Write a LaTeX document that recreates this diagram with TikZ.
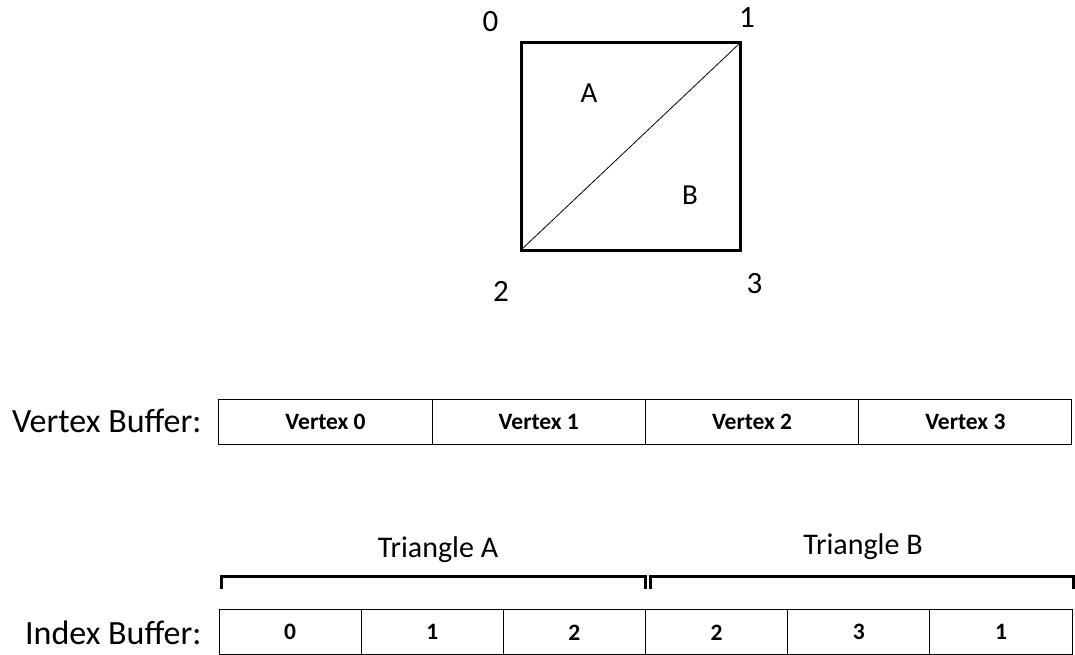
\documentclass[tikz,border=0pt]{standalone}
\usepackage{fontspec}
\setmainfont{Carlito}
\usetikzlibrary{positioning}

\begin{document}
\begin{tikzpicture}[x=1pt, y=-1pt,
    vcell/.style={rectangle, draw, line width=1pt, outer sep=0pt, inner sep=0pt, minimum width=213.25pt, minimum height=45pt, font=\fontsize{23.5}{23.5}\selectfont\bfseries},
    icell/.style={vcell, minimum width=142.17pt},
    buflabel/.style={anchor=east, font=\fontsize{34}{34}\selectfont},
    cornerlabel/.style={font=\fontsize{31}{31}\selectfont},
    trilabel/.style={font=\fontsize{29}{29}\selectfont},
    grouplabel/.style={font=\fontsize{30}{30}\selectfont},
    bracket/.style={line width=3pt}]
    \useasboundingbox (0,0) rectangle (1075,655);

    % quad split into two triangles
    \coordinate (p0) at (521,43);
    \coordinate (p1) at (740,43);
    \coordinate (p2) at (521,250);
    \coordinate (p3) at (740,250);
    \draw [line width=3pt] (p0) -- (p1) -- (p3) -- (p2) -- cycle;
    \draw [line width=0.8pt] (p2) -- (p1);
    \node (n0) [cornerlabel] at (490.5,22) {0};
    \node (n1) [cornerlabel] at (747,18) {1};
    \node (n2) [cornerlabel] at (501,291) {2};
    \node (n3) [cornerlabel] at (754.5,284) {3};
    \node (ta) [trilabel] at (589,93) {A};
    \node (tb) [trilabel] at (690,195) {B};

    % vertex buffer
    \node (v0) [vcell] at (325.6,421.5) {Vertex 0};
    \foreach \i [count=\j from 0] in {1,2,3}
        \node (v\i) [vcell, right=0pt of v\j] {Vertex \i};
    \node (vlabel) [buflabel] at (205,421) {Vertex Buffer:};

    % index buffer
    \node (i0) [icell] at (290.1,632.3) {0};
    \foreach \v [count=\i from 1, count=\j from 0] in {1,2,2,3,1}
        \node (i\i) [icell, right=0pt of i\j] {\v};
    \node (ilabel) [buflabel] at (205,633) {Index Buffer:};

    % triangle brackets
    \coordinate (ba0) at (221,589);
    \coordinate (ba1) at (645,589);
    \coordinate (bb0) at (650,589);
    \coordinate (bb1) at (1073,589);
    \draw [bracket] (ba0) |- (645,576) -- (ba1);
    \draw [bracket] (bb0) |- (1073,576) -- (bb1);
    \node (tria) [grouplabel] at (438,550) {Triangle A};
    \node (trib) [grouplabel] at (863,547) {Triangle B};
\end{tikzpicture}
\end{document}
